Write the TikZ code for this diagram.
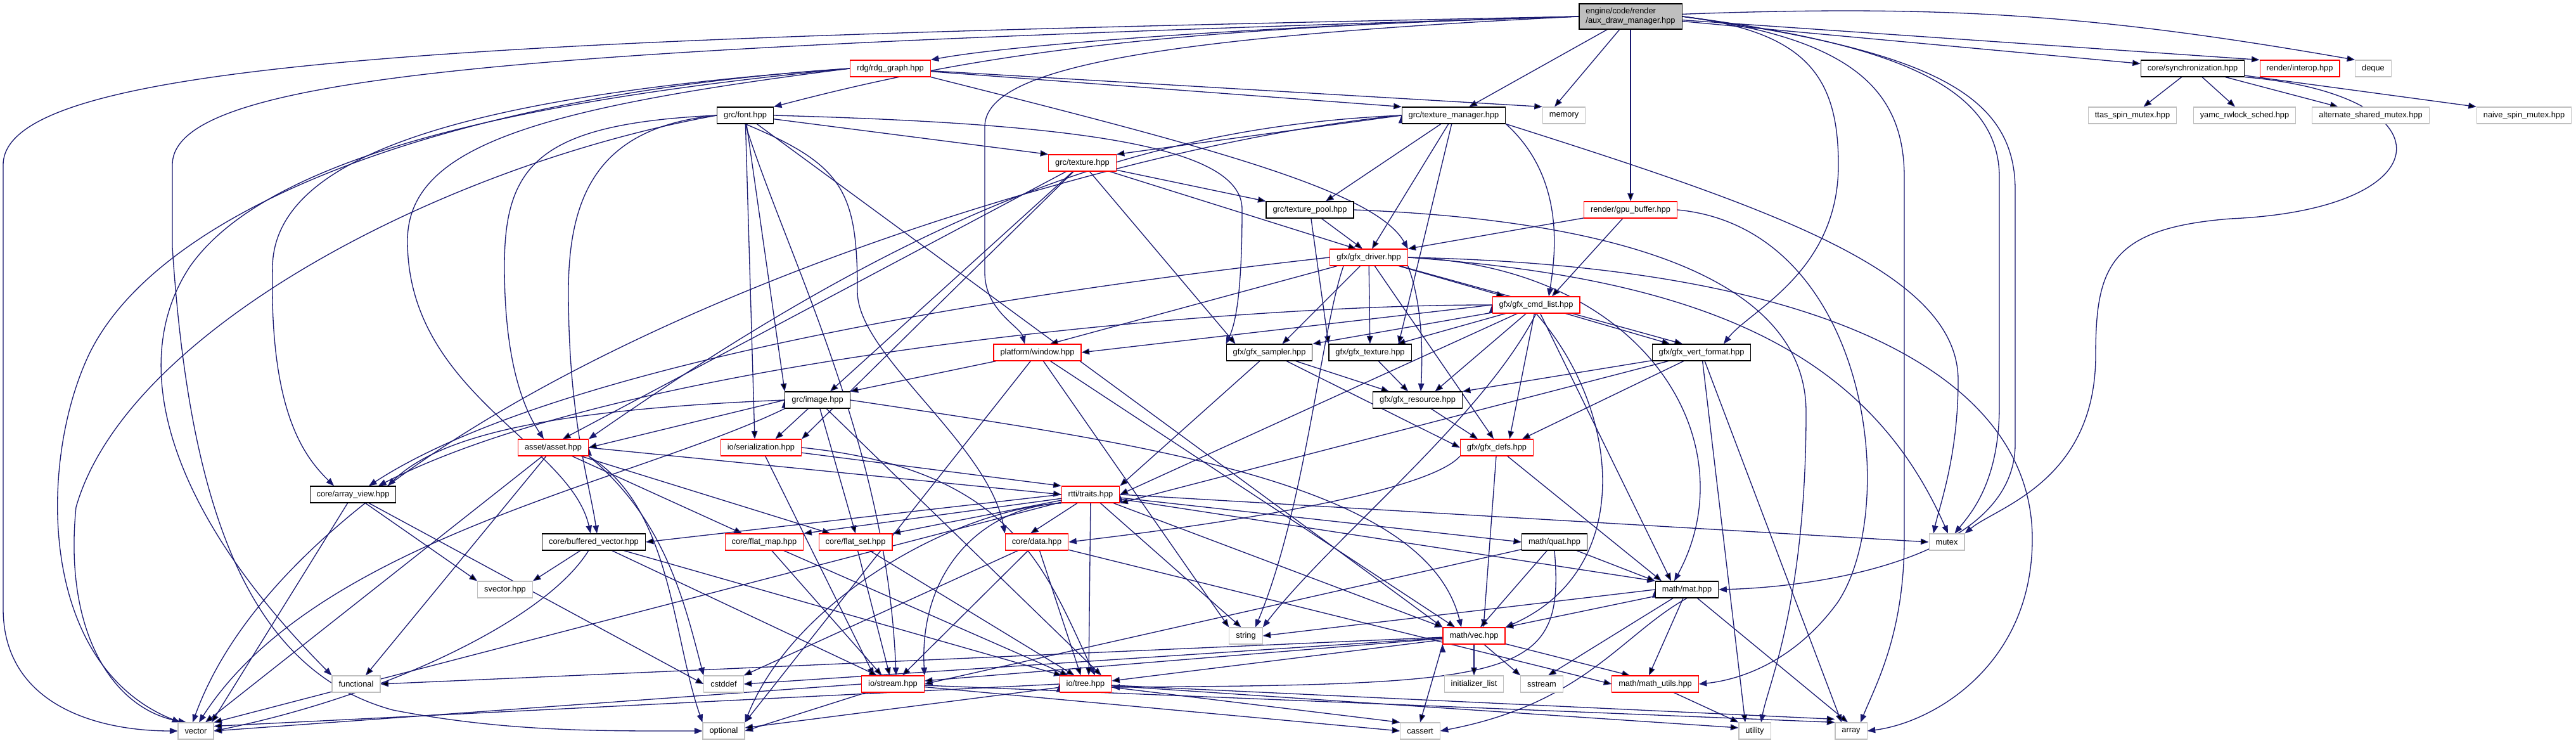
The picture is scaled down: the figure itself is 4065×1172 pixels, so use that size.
\documentclass[tikz,border=0pt]{standalone}
\usepackage{fontspec}
\setmainfont{Liberation Sans}
\usetikzlibrary{arrows.meta}
\pgfdeclarelayer{edgelayer}
\pgfsetlayers{edgelayer,main}
\definecolor{edgeblue}{HTML}{191970}
\definecolor{sysgray}{HTML}{BFBFBF}
\tikzset{
  hdr/.style={draw=black, fill=white, line width=0.65pt, inner xsep=0.21cm, inner ysep=0pt,
    minimum height=0.52cm, font=\fontsize{7.3}{8.6}\selectfont},
  hdrred/.style={hdr, draw=red},
  stdhdr/.style={hdr, draw=sysgray},
  rootfile/.style={hdr, fill=sysgray, align=left, minimum height=0.8cm},
  dep/.style={draw=edgeblue, line width=0.75pt, -{Triangle[length=0.25cm,width=0.19cm]}},
}

\begin{document}
\begin{tikzpicture}[x=0.02cm,y=-0.02cm]
    \useasboundingbox (0,0) rectangle (4065,1172);

    \node[rootfile] (main) at (2573,26) {engine/code/render\\/aux\_draw\_manager.hpp};
    \node[hdrred] (rdg) at (1405,108) {rdg/rdg\_graph.hpp};
    \node[hdr] (font) at (1176,182) {grc/font.hpp};
    \node[hdr] (tman) at (2294,182) {grc/texture\_manager.hpp};
    \node[stdhdr] (memory) at (2468,182) {memory};
    \node[hdrred] (tex) at (1708,257) {grc/texture.hpp};
    \node[hdr] (tpool) at (2067,331) {grc/texture\_pool.hpp};
    \node[hdrred] (gpubuf) at (2573,331) {render/gpu\_buffer.hpp};
    \node[hdr] (sync) at (3460,108) {core/synchronization.hpp};
    \node[hdrred] (interop) at (3629,108) {render/interop.hpp};
    \node[stdhdr] (deque) at (3745,108) {deque};
    \node[stdhdr] (ttas) at (3365,182) {ttas\_spin\_mutex.hpp};
    \node[stdhdr] (yamc) at (3542,182) {yamc\_rwlock\_sched.hpp};
    \node[stdhdr] (altmx) at (3741,182) {alternate\_shared\_mutex.hpp};
    \node[stdhdr] (naive) at (3983,182) {naive\_spin\_mutex.hpp};
    \node[hdrred] (driver) at (2160,406) {gfx/gfx\_driver.hpp};
    \node[hdrred] (cmdlist) at (2424,481) {gfx/gfx\_cmd\_list.hpp};
    \node[hdrred] (window) at (1637,556) {platform/window.hpp};
    \node[hdr] (sampler) at (2003,556) {gfx/gfx\_sampler.hpp};
    \node[hdr] (gtex) at (2162,556) {gfx/gfx\_texture.hpp};
    \node[hdr] (vfmt) at (2685,556) {gfx/gfx\_vert\_format.hpp};
    \node[hdr] (image) at (1290,631) {grc/image.hpp};
    \node[hdr] (gres) at (2237,631) {gfx/gfx\_resource.hpp};
    \node[hdrred] (defs) at (2362,706) {gfx/gfx\_defs.hpp};
    \node[hdrred] (serial) at (1201,706) {io/serialization.hpp};
    \node[hdrred] (asset) at (873,706) {asset/asset.hpp};
    \node[hdr] (aview) at (557,780) {core/array\_view.hpp};
    \node[hdrred] (traits) at (1721,780) {rtti/traits.hpp};
    \node[hdr] (bvec) at (937,855) {core/buffered\_vector.hpp};
    \node[hdrred] (fmap) at (1206,855) {core/flat\_map.hpp};
    \node[hdrred] (fset) at (1350,855) {core/flat\_set.hpp};
    \node[hdrred] (data) at (1636,855) {core/data.hpp};
    \node[hdr] (quat) at (2453,855) {math/quat.hpp};
    \node[stdhdr] (mutex) at (3072,855) {mutex};
    \node[stdhdr] (svec) at (797,930) {svector.hpp};
    \node[hdr] (mat) at (2662,930) {math/mat.hpp};
    \node[stdhdr] (string) at (1966,1003) {string};
    \node[hdrred] (vec) at (2326,1003) {math/vec.hpp};
    \node[stdhdr] (functional) at (562,1079) {functional};
    \node[stdhdr] (cstddef) at (1142,1079) {cstddef};
    \node[hdrred] (stream) at (1409,1079) {io/stream.hpp};
    \node[hdrred] (tree) at (1713,1079) {io/tree.hpp};
    \node[stdhdr] (initlist) at (2326,1079) {initializer\_list};
    \node[stdhdr] (sstream) at (2433,1079) {sstream};
    \node[hdrred] (mutils) at (2612,1079) {math/math\_utils.hpp};
    \node[stdhdr] (vector) at (309,1153) {vector};
    \node[stdhdr] (optional) at (1142,1153) {optional};
    \node[stdhdr] (cassert) at (2241,1153) {cassert};
    \node[stdhdr] (utility) at (2769,1153) {utility};
    \node[stdhdr] (array) at (2921,1153) {array};

    \begin{pgfonlayer}{edgelayer}
    % root file
    \draw[dep] (main.west) .. controls (800,60) and (5,90) .. (5,260) -- (5,960) .. controls (5,1110) and (150,1153) .. (vector.west);
    \draw[dep] (main.west) .. controls (900,75) and (272,110) .. (272,260) -- (272,390) .. controls (300,820) and (400,1060) .. (620,1120) .. controls (800,1155) and (950,1153) .. (optional.west);
    \draw[dep] (main.west) .. controls (2000,40) and (1600,70) .. (rdg.north east);
    \draw[dep] (main.west) .. controls (1800,45) and (1520,90) .. (font.north east);
    \draw[dep] (main.west) .. controls (1800,60) and (1554,110) .. (1554,200) -- (1554,430) .. controls (1554,490) and (1610,515) .. ([xshift=-0.4cm]window.north);
    \path[dep]
    (main) edge (tman)
    (main) edge ([xshift=-0.3cm]memory.north)
    (main) edge (gpubuf)
    (main) edge (sync)
    (main) edge (interop.north west)
    (main) edge[bend left=6] (deque.north west);
    \draw[dep] (main.east) .. controls (2850,50) and (2901,120) .. (2901,260) .. controls (2901,430) and (2760,490) .. ([xshift=0.7cm]vfmt.north);
    \draw[dep] (main.east) .. controls (2920,60) and (3005,140) .. (3005,280) -- (3005,850) .. controls (3005,1000) and (2960,1080) .. ([xshift=0.3cm]array.north);
    \draw[dep] (main.east) .. controls (3000,70) and (3155,140) .. (3155,280) -- (3155,640) .. controls (3155,760) and (3110,810) .. ([xshift=0.25cm]mutex.north);
    \draw[dep] (main.east) .. controls (3050,80) and (3180,150) .. (3180,300) -- (3180,700) .. controls (3180,870) and (2900,925) .. (mat.east);

    \path[dep]
    (sync) edge (ttas)
    (sync) edge (yamc)
    (sync) edge (altmx)
    (sync) edge (naive.north west);
    \draw[dep] (sync.south east) .. controls (3870,150) and (3860,330) .. (3520,345) .. controls (3330,360) and (3307,420) .. (3307,560) .. controls (3307,760) and (3150,800) .. (mutex.north east);

    \path[dep]
    (rdg) edge (tman.north west)
    (rdg) edge (memory.north west);
    \draw[dep] (rdg.south east) .. controls (1900,230) and (2170,300) .. (driver.north east);
    \draw[dep] (rdg.west) .. controls (700,150) and (250,330) .. (140,560) .. controls (60,730) and (60,1050) .. ([xshift=-0.5cm]vector.north);
    \draw[dep] (rdg.west) .. controls (800,160) and (420,250) .. (300,420) .. controls (200,570) and (260,800) .. (functional.north west);
    \draw[dep] (rdg.west) .. controls (750,150) and (434,240) .. (430,420) .. controls (425,650) and (480,720) .. ([xshift=-0.6cm]aview.north);
    \draw[dep] (rdg.west) .. controls (850,170) and (643,230) .. (643,380) .. controls (643,620) and (900,700) .. ([xshift=-0.1cm]bvec.north);

    \path[dep]
    (font) edge (tex.north west)
    (font) edge (image.north west)
    (font) edge ([xshift=-0.2cm]serial.north)
    (font) edge (vec.north west);
    \draw[dep] (font.east) .. controls (1700,195) and (1960,230) .. (1960,330) .. controls (1960,460) and (1950,510) .. (sampler.north west);
    \draw[dep] (font.west) .. controls (850,195) and (796,260) .. (796,420) .. controls (796,580) and (830,650) .. ([xshift=-0.3cm]asset.north);
    \draw[dep] (font.west) .. controls (950,200) and (897,300) .. (897,460) .. controls (897,660) and (930,760) .. ([xshift=0.1cm]bvec.north);
    \draw[dep] (font.west) .. controls (700,260) and (200,520) .. (120,800) .. controls (100,1000) and (180,1120) .. ([xshift=-0.3cm]vector.north);
    \draw[dep] (font.south) .. controls (1330,260) and (1353,300) .. (1353,460) .. controls (1353,560) and (1560,700) .. (data.north west);
    \draw[dep] (font.south) .. controls (1240,400) and (1400,700) .. ([xshift=0.1cm]stream.north);

    \path[dep]
    (tman.west) edge (tex.north east)
    (tman) edge ([xshift=0.5cm]tpool.north)
    (tman) edge ([xshift=0.1cm]driver.north)
    (tman) edge ([xshift=0.9cm]gtex.north);
    \draw[dep] (tman.south east) .. controls (2470,280) and (2455,400) .. ([xshift=0.4cm]cmdlist.north);
    \draw[dep] (tman.south east) .. controls (2800,330) and (3090,430) .. (3090,600) .. controls (3090,720) and (3060,800) .. ([xshift=-0.42cm]mutex.north);
    \draw[dep] (tman.west) .. controls (1800,200) and (1450,330) .. (asset.north east);
    \draw[dep] (tman.west) .. controls (1700,230) and (500,600) .. ([xshift=-0.1cm]vector.north);

    \path[dep]
    (tex) edge (tpool.north west)
    (tex) edge ([xshift=0.3cm]asset.north)
    (tex) edge ([xshift=0.4cm]image.north)
    (tex) edge (serial.north east)
    (tex) edge ([xshift=0.3cm]sampler.north west)
    (tex) edge ([xshift=-0.4cm]driver.north);

    \path[dep]
    (tpool) edge ([xshift=-0.2cm]driver.north)
    (tpool) edge (gtex.north west);
    \draw[dep] (tpool.east) .. controls (2500,345) and (2850,420) .. (2850,650) .. controls (2850,950) and (2790,1080) .. ([xshift=0.2cm]utility.north);

    \path[dep]
    (gpubuf) edge (driver.north east)
    (gpubuf) edge ([xshift=0.5cm]cmdlist.north);
    \draw[dep] (gpubuf.east) .. controls (2950,360) and (3000,800) .. (2900,950) .. controls (2820,1060) and (2720,1075) .. (mutils.east);

    \path[dep]
    (driver) edge ([xshift=-1cm]cmdlist.north)
    (driver) edge ([xshift=-0.96cm]sampler.north east)
    (driver) edge (gtex)
    (driver) edge ([xshift=-0.1cm]defs.north)
    (driver) edge ([xshift=-0.6cm]vfmt.north)
    (driver) edge ([xshift=0.4cm]window.north);
    \draw[dep] (driver.south east) .. controls (2245,480) and (2245,560) .. ([xshift=0.1cm]gres.north);
    \draw[dep] (driver.west) .. controls (1700,450) and (900,560) .. ([xshift=0.5cm]aview.north);
    \draw[dep] (driver.east) .. controls (2700,440) and (2950,560) .. ([xshift=0.04cm]mutex.north);
    \draw[dep] (driver.east) .. controls (2600,420) and (2760,700) .. ([xshift=-0.4cm]mat.north);
    \draw[dep] (driver.east) .. controls (2900,420) and (3207,600) .. (3207,850) .. controls (3207,1050) and (3050,1140) .. (array.east);
    \draw[dep] ([xshift=-0.8cm]driver.south) .. controls (2085,520) and (2060,800) .. ([xshift=0.3cm]string.north);

    \path[dep]
    (cmdlist.west) edge (window.east)
    (cmdlist) edge (sampler.north east)
    (cmdlist) edge ([xshift=0.86cm]gtex.north)
    (cmdlist) edge ([xshift=0.55cm]gres.north)
    (cmdlist) edge ([xshift=0.4cm]defs.north)
    (cmdlist) edge ([xshift=-1cm]vfmt.north)
    (cmdlist) edge (traits.east)
    (cmdlist) edge ([xshift=-0.5cm]mat.north);
    \draw[dep] (cmdlist.west) .. controls (1950,480) and (1000,560) .. ([xshift=0.8cm]aview.north);
    \draw[dep] (cmdlist.south) .. controls (2340,660) and (2100,850) .. (string.north east);
    \draw[dep] (cmdlist.south) .. controls (2560,650) and (2580,900) .. (vec.north east);

    \path[dep]
    (window) edge (image.north east)
    (window) edge (optional.north east)
    (window) edge (string.north west)
    (window) edge ([xshift=-0.6cm]vec.north);

    \path[dep]
    (sampler) edge ([xshift=-0.9cm]gres.north)
    (sampler) edge (traits.north east)
    (sampler) edge (defs.west)
    (gtex) edge ([xshift=-0.3cm]gres.north)
    (vfmt) edge (gres.north east)
    (vfmt) edge ([xshift=0.8cm]defs.north)
    (vfmt) edge (traits.south east)
    (vfmt) edge ([xshift=-0.3cm]utility.north)
    (vfmt) edge ([xshift=-0.3cm]array.north)
    (gres) edge ([xshift=-0.6cm]defs.north)
    (defs) edge ([xshift=0.3cm]vec.north)
    (defs) edge ([xshift=-0.8cm]mat.north);
    \draw[dep] (defs.south west) .. controls (2250,780) and (1900,830) .. (data.east);

    \path[dep]
    (image) edge ([xshift=0.45cm]serial.north)
    (image.west) edge (asset.east)
    (image) edge (fset.north)
    (image) edge ([xshift=0.5cm]tree.north);
    \draw[dep] (image.east) .. controls (1800,700) and (2250,760) .. ([xshift=-0.4cm]vec.north);
    \draw[dep] (image.west) .. controls (900,645) and (700,680) .. ([xshift=1.1cm]aview.north);
    \draw[dep] (image.south west) .. controls (1000,760) and (500,850) .. ([xshift=0.1cm]vector.north);

    \path[dep]
    (serial) edge (traits.north west)
    (serial) edge ([xshift=-0.6cm]stream.north);
    \draw[dep] (serial.east) .. controls (1600,740) and (1650,900) .. ([xshift=0.3cm]tree.north);

    \path[dep]
    (asset) edge ([xshift=-0.7cm]fmap.north)
    (asset) edge ([xshift=-0.8cm]fset.north)
    (asset.east) edge (traits.west)
    (asset) edge ([xshift=0.3cm]vector.north)
    (asset) edge ([xshift=0.3cm]functional.north);
    \draw[dep] (asset.south east) .. controls (1050,820) and (1080,950) .. (cstddef.north west);
    \draw[dep] (asset.south east) .. controls (1060,800) and (1060,1000) .. (optional.north west);

    \path[dep]
    (aview) edge ([xshift=0.5cm]vector.north)
    (aview) edge (svec.north west)
    (aview) edge (cstddef.west);

    \path[dep]
    (traits.west) edge (bvec.east)
    (traits) edge (fmap.north east)
    (traits) edge (fset.north east)
    (traits) edge ([xshift=-0.2cm]data.north)
    (traits) edge (quat.west)
    (traits) edge (mat.north west)
    (traits) edge (vec.north west)
    (traits) edge ([xshift=-0.15cm]string.north)
    (traits) edge ([xshift=0.1cm]tree.north)
    (traits) edge (vector.north east)
    (traits.east) edge (mutex.west);
    \draw[dep] (traits.south west) .. controls (1550,800) and (1450,900) .. (stream.north east);
    \draw[dep] (traits.south west) .. controls (1500,805) and (1250,950) .. (optional.north east);

    \path[dep]
    (bvec) edge (svec.north east)
    (bvec) edge ([xshift=-0.5cm]stream.north)
    (bvec) edge ([xshift=-0.75cm]tree.north)
    (fmap) edge ([xshift=-0.35cm]stream.north)
    (fmap) edge ([xshift=-0.55cm]tree.north)
    (fset) edge ([xshift=-0.1cm]stream.north)
    (fset) edge ([xshift=-0.35cm]tree.north)
    (data) edge (cstddef.north east)
    (data) edge ([xshift=0.3cm]stream.north)
    (data) edge ([xshift=-0.15cm]tree.north)
    (data) edge (mutils.west);
    \draw[dep] (bvec) .. controls (860,980) and (600,1100) .. (vector.east);

    \path[dep]
    (quat) edge ([xshift=0.2cm]vec.north)
    (quat) edge (mat.north west)
    (quat) edge (stream.east);
    \draw[dep] (quat.south) .. controls (2470,1070) and (2400,1080) .. ([yshift=-0.1cm]tree.east);

    \path[dep]
    (mat.west) edge (string.east)
    (mat) edge (vec.north east)
    (mat) edge ([xshift=0.2cm]sstream.north)
    (mat) edge ([xshift=-0.2cm]mutils.north)
    (mat) edge ([xshift=-0.1cm]array.north);
    \draw[dep] (mat.south) .. controls (2560,1000) and (2500,1110) .. (cassert.east);

    \path[dep]
    (vec) edge (functional.east)
    (vec) edge (cstddef.east)
    (vec) edge ([yshift=0.1cm]stream.east)
    (vec) edge ([yshift=0.1cm]tree.east)
    (vec.south west) edge (cassert.north)
    (vec) edge (initlist)
    (vec) edge (sstream.north west)
    (vec) edge ([xshift=-0.8cm]mutils.north);

    \path[dep]
    (mutils) edge (utility.north west)
    (stream) edge (optional.east)
    (stream.west) edge (vector.east)
    (stream) edge (array.north west)
    (stream) edge (cassert.west)
    (tree) edge ([yshift=0.1cm]optional.east)
    (tree.west) edge ([yshift=0.15cm]vector.east)
    (tree) edge (cassert.north west)
    (tree) edge ([yshift=0.1cm]utility.west)
    (tree) edge ([yshift=0.1cm]array.north west);
    \end{pgfonlayer}
\end{tikzpicture}
\end{document}
